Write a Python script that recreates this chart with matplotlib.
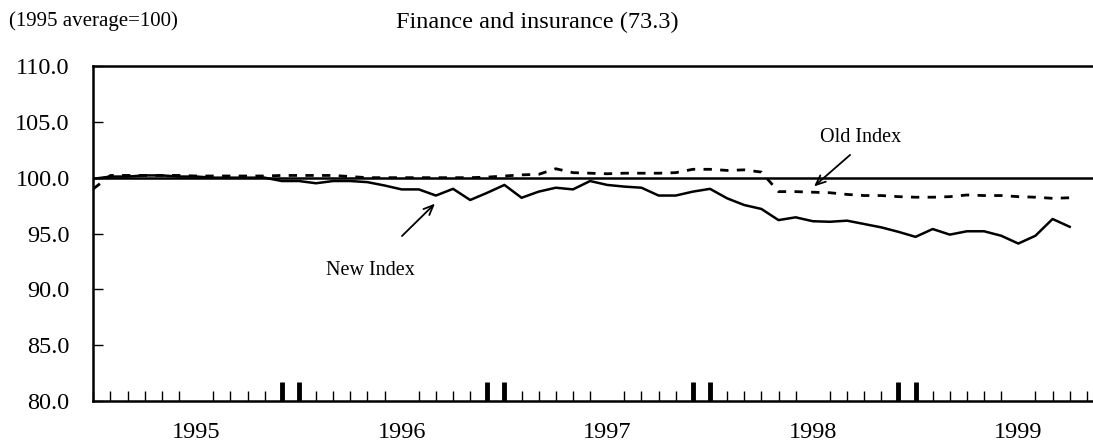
import numpy as np
import matplotlib.pyplot as plt

## Finance and insurance price index, new vs old (1995 average = 100) ##

# monthly values, Jan 1995 .. Oct 1999
new_index = [99.9, 100.1, 100.1, 100.2, 100.2, 100.1, 100.1, 100.0, 100.0, 100.0,
             100.0, 99.7, 99.7, 99.5, 99.7, 99.7, 99.6, 99.3, 98.95, 98.95,
             98.4, 99.0, 98.0, 98.65, 99.35, 98.2, 98.75, 99.1, 98.95, 99.7,
             99.35, 99.2, 99.1, 98.4, 98.4, 98.75, 99.0, 98.15, 97.55, 97.2,
             96.2, 96.45, 96.1, 96.05, 96.15, 95.85, 95.55, 95.15, 94.7, 95.4,
             94.9, 95.2, 95.2, 94.8, 94.1, 94.8, 96.3, 95.6]
old_index = [99.0, 100.2, 100.2, 100.2, 100.2, 100.2, 100.15, 100.15, 100.15, 100.15,
             100.15, 100.2, 100.2, 100.2, 100.2, 100.1, 100.0, 100.0, 100.0, 100.0,
             100.0, 100.0, 100.0, 100.05, 100.15, 100.25, 100.3, 100.8, 100.45, 100.4,
             100.35, 100.4, 100.4, 100.4, 100.45, 100.75, 100.75, 100.65, 100.7, 100.5,
             98.75, 98.75, 98.7, 98.65, 98.5, 98.4, 98.4, 98.3, 98.25, 98.25,
             98.3, 98.45, 98.4, 98.4, 98.3, 98.25, 98.15, 98.2]
years = ['1995', '1996', '1997', '1998', '1999']
year_pos = [6, 18, 30, 42, 54]          # label under the middle of each year
year_marks = [11, 12, 23, 24, 35, 36, 47, 48]
yticks = [80, 85, 90, 95, 100, 105, 110]

plt.rcParams['font.family'] = ['Liberation Serif', 'DejaVu Serif']

fig = plt.figure(figsize=(10.93, 4.43), dpi=100)
ax = fig.add_axes([0.0854, 0.0948, 0.9146, 0.7562])

months = np.arange(len(new_index))
ax.axhline(100, color='black', lw=1.8, zorder=1)
ax.plot(months, old_index, color='black', lw=2.0, linestyle=(0, (3.0, 3.0)), zorder=2)
ax.plot(months, new_index, color='black', lw=1.8, zorder=3)

ax.set_xlim(0, 58.36)
ax.set_ylim(80, 110)
ax.set_yticks(yticks)
ax.set_yticklabels(['%.1f' % v for v in yticks], fontsize=17.5)
ax.tick_params(axis='y', direction='in', length=7, width=1.0, pad=17)

ax.set_xticks(year_pos)
ax.set_xticklabels(years, fontsize=17.5)
ax.tick_params(axis='x', which='major', length=0, pad=15)
ax.set_xticks(np.arange(0, 59), minor=True)
ax.tick_params(axis='x', which='minor', direction='in', length=7, width=1.0)

# thick year-end marks on the bottom axis
sec = ax.secondary_xaxis('bottom')
sec.set_xticks(year_marks)
sec.set_xticklabels([])
sec.tick_params(direction='in', length=14, width=3.5)
sec.spines['bottom'].set_visible(False)

for s in ['left', 'bottom', 'top']:
    ax.spines[s].set_linewidth(1.8)
ax.spines['right'].set_visible(False)

ax.annotate('', xy=(41.95, 99.05), xytext=(44.3, 102.2),
            arrowprops=dict(arrowstyle='->,head_length=0.7,head_width=0.3', lw=1.3, color='black'))
ax.text(44.8, 103.6, 'Old Index', ha='center', va='center', fontsize=14.5)
ax.annotate('', xy=(20.06, 97.85), xytext=(17.9, 94.6),
            arrowprops=dict(arrowstyle='->,head_length=0.7,head_width=0.3', lw=1.3, color='black'))
ax.text(16.15, 91.7, 'New Index', ha='center', va='center', fontsize=14.5)

fig.text(0.492, 0.95, 'Finance and insurance (73.3)', ha='center', va='center', fontsize=17.5)
fig.text(0.008, 0.953, '(1995 average=100)', ha='left', va='center', fontsize=15)

fig.savefig('out.png', dpi=100)
